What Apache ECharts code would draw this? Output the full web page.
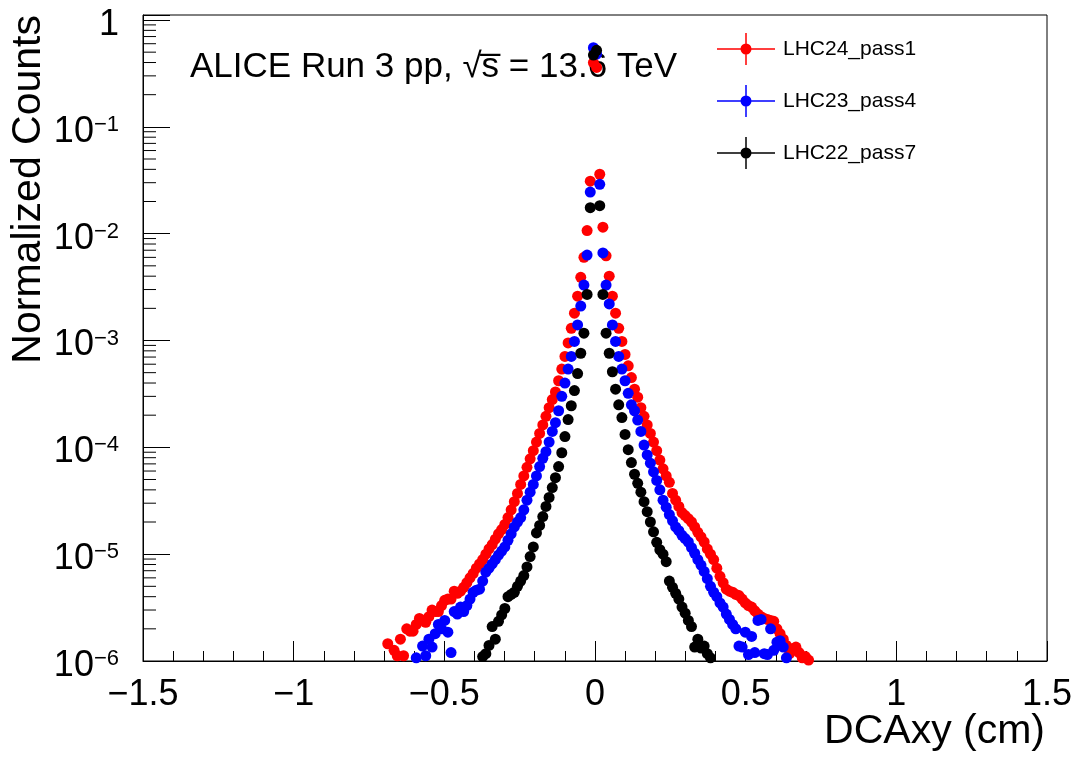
<!DOCTYPE html>
<html lang="en">
<head>
<meta charset="UTF-8">
<title>DCAxy</title>
<script src="https://cdn.jsdelivr.net/npm/echarts@6/dist/echarts.min.js"></script>
<style>
  html, body { margin: 0; padding: 0; background: #fff; }
  #main { width: 1079px; height: 758px; }
</style>
</head>
<body>
<div id="main"></div>
<script>
// |DCAxy| of each histogram bin (0.0105 cm wide), from the centre outwards
var absBinCenters = [
  0.00525, 0.01575, 0.02625, 0.03675, 0.04725, 0.05775, 0.06825, 0.07875, 0.08925, 0.09975,
  0.11025, 0.12075, 0.13125, 0.14175, 0.15225, 0.16275, 0.17325, 0.18375, 0.19425, 0.20475,
  0.21525, 0.22575, 0.23625, 0.24675, 0.25725, 0.26775, 0.27825, 0.28875, 0.29925, 0.30975,
  0.32025, 0.33075, 0.34125, 0.35175, 0.36225, 0.37275, 0.38325, 0.39375, 0.40425, 0.41475,
  0.42525, 0.43575, 0.44625, 0.45675, 0.46725, 0.47775, 0.48825, 0.49875, 0.50925, 0.51975,
  0.53025, 0.54075, 0.55125, 0.56175, 0.57225, 0.58275, 0.59325, 0.60375, 0.61425, 0.62475,
  0.63525, 0.64575, 0.65625, 0.66675, 0.67725, 0.68775, 0.69825, 0.70875
];

// normalized counts, negative side (index = bin from centre outwards)
var pass1Neg = [
  0.40, 0.031, 0.0107, 6.0e-3, 3.9e-3, 2.6e-3, 1.8e-3, 1.3e-3, 9.5e-4, 7.1e-4,
  5.4e-4, 4.2e-4, 3.3e-4, 2.8e-4, 2.35e-4, 1.95e-4, 1.62e-4, 1.35e-4, 1.12e-4, 9.3e-5,
  7.8e-5, 6.5e-5, 5.4e-5, 4.5e-5, 3.7e-5, 3.1e-5, 2.6e-5, 2.2e-5, 1.9e-5, 1.7e-5,
  1.55e-5, 1.38e-5, 1.23e-5, 1.12e-5, 1.0e-5, 8.9e-6, 8.1e-6, 7.4e-6, 6.6e-6, 6.0e-6,
  5.4e-6, 4.9e-6, 4.5e-6, 4.3e-6, 4.5e-6, 3.8e-6, 3.8e-6, 3.7e-6, 3.3e-6, 2.9e-6,
  2.9e-6, 3.0e-6, 2.6e-6, 2.3e-6, 2.4e-6, 2.5e-6, 2.2e-6, 1.9e-6, 1.9e-6, 2.0e-6,
  1.12e-6, 1.6e-6, 1.12e-6, 1.26e-6, null, 1.45e-6, null, null
];
var pass1Pos = [
  0.36, 0.036, 0.0115, 6.2e-3, 4.0e-3, 2.6e-3, 1.8e-3, 1.3e-3, 9.8e-4, 7.4e-4,
  5.8e-4, 4.5e-4, 3.5e-4, 2.95e-4, 2.35e-4, 1.95e-4, 1.62e-4, 1.35e-4, 1.12e-4, 9.3e-5,
  7.6e-5, 6.3e-5, 5.4e-5, 4.7e-5, 3.7e-5, 3.2e-5, 2.8e-5, 2.45e-5, 2.3e-5, 2.15e-5,
  2.0e-5, 1.8e-5, 1.6e-5, 1.45e-5, 1.3e-5, 1.12e-5, 1.0e-5, 8.9e-6, 7.4e-6, 6.2e-6,
  5.4e-6, 4.7e-6, 4.5e-6, 4.4e-6, 4.2e-6, 4.1e-6, 3.8e-6, 3.5e-6, 3.3e-6, 3.2e-6,
  2.95e-6, 2.75e-6, 2.6e-6, 2.5e-6, 2.45e-6, 2.4e-6, 2.35e-6, 2.0e-6, 1.8e-6, 1.6e-6,
  1.4e-6, 1.17e-6, 1.3e-6, 1.35e-6, 1.2e-6, 1.07e-6, 1.1e-6, 1.02e-6
];

var pass4Neg = [
  0.55, 0.0245, 6.3e-3, 3.3e-3, 2.1e-3, 1.4e-3, 9.8e-4, 7.1e-4, 5.4e-4, 4.0e-4,
  3.0e-4, 2.2e-4, 1.7e-4, 1.41e-4, 1.12e-4, 9.1e-5, 7.9e-5, 6.6e-5, 5.4e-5, 4.5e-5,
  3.8e-5, 3.2e-5, 2.6e-5, 2.2e-5, 2.0e-5, 1.8e-5, 1.55e-5, 1.35e-5, 1.17e-5, 1.07e-5,
  9.8e-6, 8.9e-6, 8.1e-6, 7.4e-6, 6.8e-6, 5.6e-6, 4.7e-6, 4.6e-6, 4.4e-6, 3.8e-6,
  3.3e-6, 2.9e-6, 3.2e-6, 2.75e-6, 2.9e-6, 1.2e-6, 1.86e-6, 2.4e-6, 2.0e-6, 2.2e-6,
  1.8e-6, 1.35e-6, 1.6e-6, 1.12e-6, 1.38e-6, null, 1.07e-6
];
var pass4Pos = [
  0.48, 0.029, 6.6e-3, 3.3e-3, 2.2e-3, 1.4e-3, 9.8e-4, 7.1e-4, 5.4e-4, 4.2e-4,
  3.2e-4, 2.5e-4, 2.2e-4, 1.8e-4, 1.41e-4, 1.05e-4, 8.5e-5, 7.1e-5, 5.9e-5, 4.9e-5,
  4.0e-5, 3.2e-5, 2.75e-5, 2.35e-5, 2.05e-5, 1.8e-5, 1.66e-5, 1.5e-5, 1.4e-5, 1.3e-5,
  1.15e-5, 1.02e-5, 8.9e-6, 7.9e-6, 6.9e-6, 5.9e-6, 5.0e-6, 4.4e-6, 4.0e-6, 3.5e-6,
  3.2e-6, 2.75e-6, 2.45e-6, 2.2e-6, 2.0e-6, 1.38e-6, 1.35e-6, 1.86e-6, 1.15e-6, 1.7e-6,
  1.2e-6, 2.4e-6, 2.45e-6, 1.17e-6, 1.15e-6, 2.0e-6, 1.26e-6, 1.5e-6, 1.55e-6, 1.35e-6,
  1.07e-6
];

var pass7Neg = [
  0.47, 0.0175, 2.7e-3, 1.17e-3, 7.6e-4, 4.9e-4, 3.4e-4, 2.45e-4, 1.82e-4, 1.26e-4,
  8.9e-5, 6.6e-5, 5.2e-5, 4.2e-5, 3.4e-5, 2.8e-5, 2.25e-5, 1.86e-5, 1.58e-5, 1.17e-5,
  9.5e-6, 7.6e-6, 6.3e-6, 5.6e-6, 5.0e-6, 4.4e-6, 4.2e-6, 4.0e-6, 3.1e-6, 2.7e-6,
  2.35e-6, 1.6e-6, 2.1e-6, 1.4e-6, 1.17e-6, 1.1e-6
];
var pass7Pos = [
  0.52, 0.0183, 2.7e-3, 1.17e-3, 7.6e-4, 5.1e-4, 3.5e-4, 2.5e-4, 1.9e-4, 1.32e-4,
  9.5e-5, 7.2e-5, 5.6e-5, 4.6e-5, 3.8e-5, 3.1e-5, 2.5e-5, 2.0e-5, 1.62e-5, 1.29e-5,
  1.1e-5, 1.0e-5, 8.5e-6, 5.6e-6, 4.9e-6, 4.3e-6, 3.8e-6, 3.2e-6, 2.8e-6, 2.4e-6,
  2.1e-6, 1.35e-6, 1.6e-6, 1.32e-6, 1.38e-6, 1.17e-6, 1.07e-6
];

var seriesNames = ['LHC24_pass1', 'LHC23_pass4', 'LHC22_pass7'];
var seriesColors = ['#ff0000', '#0000ff', '#000000'];

var FONT = "'Liberation Sans', Arial, sans-serif";
var MINUS = '\u2212';

function histPoints(neg, pos) {
  var pts = [];
  for (var i = neg.length - 1; i >= 0; i--) {
    if (neg[i] != null) pts.push([-absBinCenters[i], neg[i]]);
  }
  for (var j = 0; j < pos.length; j++) {
    if (pos[j] != null) pts.push([absBinCenters[j], pos[j]]);
  }
  return pts;
}

// minor ticks of the log axis at 2..9 x 10^n
var yMinorTicks = [];
for (var e = -6; e <= -1; e++) {
  for (var m = 2; m <= 9; m++) yMinorTicks.push([-1.5, m * Math.pow(10, e)]);
}

var chartDom = document.getElementById('main');
var myChart = echarts.init(chartDom, null, { renderer: 'canvas' });

var dataSets = [histPoints(pass1Neg, pass1Pos), histPoints(pass4Neg, pass4Pos), histPoints(pass7Neg, pass7Pos)];

var series = [{
  name: 'minor',
  type: 'custom',
  silent: true,
  data: yMinorTicks,
  renderItem: function (params, api) {
    var p = api.coord([api.value(0), api.value(1)]);
    return {
      type: 'line',
      shape: { x1: p[0], y1: p[1], x2: p[0] + 13, y2: p[1] },
      style: { stroke: '#000', lineWidth: 1 }
    };
  }
}];

for (var s = 0; s < 3; s++) {
  series.push({
    name: seriesNames[s],
    type: 'scatter',
    symbol: 'circle',
    symbolSize: 11,
    clip: false,
    itemStyle: { color: seriesColors[s], opacity: 1 },
    emphasis: { disabled: true },
    data: dataSets[s]
  });
}

var option = {
  animation: false,
  backgroundColor: '#fff',
  grid: {
    left: 143, right: 32, top: 15, bottom: 97,
    show: true, borderColor: '#000', borderWidth: 1
  },
  xAxis: {
    type: 'value',
    min: -1.5, max: 1.5, interval: 0.5,
    axisLine: { onZero: false, lineStyle: { color: '#000', width: 1 } },
    axisTick: { inside: true, length: 20, lineStyle: { color: '#000', width: 1 } },
    minorTick: { show: true, splitNumber: 5, length: 10, lineStyle: { color: '#000', width: 1 } },
    splitLine: { show: false },
    axisLabel: {
      fontFamily: FONT, fontSize: 36, color: '#000', margin: 16,
      showMinLabel: true, showMaxLabel: true,
      formatter: function (v) { return String(v).replace('-', MINUS); }
    }
  },
  yAxis: {
    type: 'log', logBase: 10,
    min: 1e-6, max: 1.114, splitNumber: 6,
    axisLine: { onZero: false, lineStyle: { color: '#000', width: 1 } },
    axisTick: { inside: true, length: 27, lineStyle: { color: '#000', width: 1 } },
    splitLine: { show: false },
    axisLabel: {
      margin: 24, color: '#000', padding: [10, 0, 0, 0],
      formatter: function (v) {
        var l = Math.log10(v);
        var n = Math.round(l);
        if (Math.abs(l - n) > 1e-6) return '';
        if (n === 0) return '{b|1}';
        return '{b|10}{s|' + MINUS + (-n) + '}';
      },
      rich: {
        b: { fontFamily: FONT, fontSize: 36, lineHeight: 36, color: '#000', verticalAlign: 'middle' },
        s: { fontFamily: FONT, fontSize: 22, lineHeight: 16, color: '#000', verticalAlign: 'top' }
      }
    }
  },
  legend: {
    orient: 'vertical', left: 712, top: 28,
    itemWidth: 58, itemHeight: 32, itemGap: 20,
    selectedMode: false,
    icon: 'path://M0,15.25H58V16.75H0Z M28.25,0H29.75V32H28.25Z M23.5,16A5.5,5.5 0 1 1 34.5,16A5.5,5.5 0 1 1 23.5,16Z',
    textStyle: { fontFamily: FONT, fontSize: 21, color: '#000', padding: [0, 0, 0, 3] },
    data: seriesNames
  },
  graphic: [
    {
      type: 'text', x: 190, y: 67, silent: true,
      style: { text: 'ALICE Run 3 pp, \u221As\u0305 = 13.6 TeV', fontFamily: FONT, fontSize: 35, fill: '#000', align: 'left', verticalAlign: 'middle' }
    },
    {
      type: 'text', x: 29, y: 15, rotation: Math.PI / 2, silent: true,
      style: { text: 'Normalized Counts', fontFamily: FONT, fontSize: 41, fill: '#000', align: 'right', verticalAlign: 'middle' }
    },
    {
      type: 'text', x: 1045, y: 732, silent: true,
      style: { text: 'DCAxy (cm)', fontFamily: FONT, fontSize: 41, fill: '#000', align: 'right', verticalAlign: 'middle' }
    }
  ],
  series: series
};

option && myChart.setOption(option);
</script>
</body>
</html>
